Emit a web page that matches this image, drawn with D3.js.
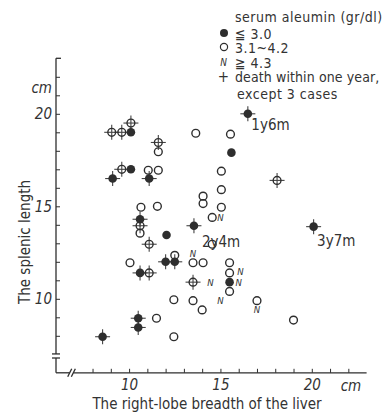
<!DOCTYPE html>
<html><head><meta charset="utf-8">
<script src="https://cdn.jsdelivr.net/npm/d3@7"></script>
<style>
html,body{margin:0;padding:0;background:#fff;}
svg{display:block;}
text{font-family:"Liberation Sans Narrow","DejaVu Sans Condensed","Arial Narrow",sans-serif;fill:#333;}
</style></head><body>
<svg id="chart" width="386" height="413"></svg>
<script>
// serum albumin <= 3.0, death within one year (filled + cross)
const filledDeath = [[16.5,20.0],[9.1,16.5],[11.1,16.5],[10.6,14.3],[13.55,13.95],[12.0,12.0],[12.5,12.0],[10.6,11.4],[10.5,8.95],[10.5,8.45],[8.55,7.95],[20.1,13.9]];
// serum albumin <= 3.0, survived
const filledAlive = [[10.1,19.0],[15.6,17.9],[10.1,17.0],[12.05,13.45],[15.5,10.9]];
// serum albumin 3.1-4.2, death within one year (open + cross)
const openDeath = [[9.05,19.0],[9.6,19.0],[10.1,19.5],[11.6,18.45],[9.6,17.0],[18.1,16.4],[10.6,13.95],[11.1,12.95],[11.1,11.4],[13.5,10.9]];
// serum albumin 3.1-4.2, survived
const openAlive = [[11.6,17.95],[13.65,18.95],[15.55,18.9],[11.05,16.95],[11.6,16.95],[15.05,16.9],[15.05,15.9],[14.05,15.55],[14.05,15.15],[15.05,14.95],[10.65,14.95],[11.55,15.0],[14.55,14.4],[10.6,13.55],[14.55,12.95],[10.05,11.95],[12.5,12.35],[13.5,11.95],[14.05,11.95],[15.5,11.95],[15.5,11.4],[15.5,10.4],[12.45,9.95],[13.5,9.9],[14.0,9.4],[17.0,9.9],[19.0,8.85],[11.5,8.95],[12.45,7.95]];
// serum albumin >= 4.3 (N)
const nMarks = [[15.0,14.4],[13.5,12.45],[16.1,11.47],[16.0,10.87],[14.45,10.9],[15.0,9.9],[17.0,9.4]];
// survival annotations
const annoLabels = ["1y6m","2y4m","3y7m"];
const annoX = [16.5,13.55,20.1];
const annoY = [20.0,13.95,13.9];
const xTickLabels = [10,15,20];
const yTickLabels = [10,15,20];
const legendTitle = "serum aleumin (gr/dl)";
const legendItems = ["≦ 3.0","3.1~4.2","≧ 4.3","death within one year,","except 3 cases"];

const svg = d3.select("#chart");
const ink = "#2e2e2e";
const x = d3.scaleLinear().domain([6,23]).range([56,366.6]);
const y = d3.scaleLinear().domain([6,23]).range([372.8,58.3]);

// axes
const gx = svg.append("g").attr("transform",`translate(0,${y(6)})`)
  .call(d3.axisBottom(x).tickValues(d3.range(8,23)).tickSize(-4).tickSizeOuter(0).tickPadding(7)
    .tickFormat(d=>xTickLabels.includes(d)?d:""));
const gy = svg.append("g").attr("transform",`translate(${x(6)},0)`)
  .call(d3.axisLeft(y).tickValues(d3.range(8,23)).tickSize(-4).tickSizeOuter(0).tickPadding(4)
    .tickFormat(d=>yTickLabels.includes(d)?d:""));
[gx,gy].forEach(g=>{
  g.select(".domain").remove();
  g.selectAll(".tick line").attr("stroke",ink).attr("stroke-width",1);
  g.selectAll(".tick text").attr("font-size",15).attr("font-style","italic")
    .style("font-family",'"Liberation Sans Narrow","DejaVu Sans Condensed",sans-serif').attr("fill","#333");
});
const ax = svg.append("g").attr("stroke",ink).attr("stroke-width",1.3).attr("fill","none");
// y axis line with break
ax.append("line").attr("x1",x(6)).attr("x2",x(6)).attr("y1",y(23)).attr("y2",y(7.02));
ax.append("line").attr("x1",x(6)).attr("x2",x(6)).attr("y1",y(6.8)).attr("y2",y(6));
ax.append("line").attr("x1",x(6)).attr("x2",x(6)+5).attr("y1",y(23)).attr("y2",y(23));
[7.02,6.8].forEach(v=>ax.append("line").attr("x1",x(6)-4).attr("x2",x(6)+4).attr("y1",y(v)).attr("y2",y(v)));
// x axis line with break
ax.append("line").attr("x1",x(6)).attr("x2",x(6.75)).attr("y1",y(6)).attr("y2",y(6));
ax.append("line").attr("x1",x(6.95)).attr("x2",x(23)).attr("y1",y(6)).attr("y2",y(6));
[6.75,6.95].forEach(v=>ax.append("line").attr("x1",x(v)-2).attr("x2",x(v)+2).attr("y1",y(6)+4).attr("y2",y(6)-4));

// unit labels
svg.append("text").attr("x",x(6)-4).attr("y",93).attr("text-anchor","end").attr("font-size",15).attr("font-style","italic").text("cm");
svg.append("text").attr("x",351).attr("y",390.5).attr("text-anchor","middle").attr("font-size",15).attr("font-style","italic").text("cm");
// axis titles
svg.append("text").attr("transform","translate(30,242) rotate(-90)").attr("text-anchor","middle").attr("font-size",15).text("The splenic length");
svg.append("text").attr("x",207).attr("y",409).attr("text-anchor","middle").attr("font-size",15).text("The right-lobe breadth of the liver");

// crosses
const crossPts = filledDeath.concat(openDeath);
const cg = svg.append("g").attr("stroke","#444").attr("stroke-width",1.1);
crossPts.forEach(d=>{
  cg.append("line").attr("x1",x(d[0])-7.5).attr("x2",x(d[0])+7.5).attr("y1",y(d[1])).attr("y2",y(d[1]));
  cg.append("line").attr("x1",x(d[0])).attr("x2",x(d[0])).attr("y1",y(d[1])-7.5).attr("y2",y(d[1])+7.5);
});
// open circles
svg.append("g").selectAll("circle").data(openDeath.concat(openAlive)).join("circle")
  .attr("cx",d=>x(d[0])).attr("cy",d=>y(d[1])).attr("r",3.9)
  .attr("fill","none").attr("stroke",ink).attr("stroke-width",1.4);
// filled circles
svg.append("g").selectAll("circle").data(filledDeath.concat(filledAlive)).join("circle")
  .attr("cx",d=>x(d[0])).attr("cy",d=>y(d[1])).attr("r",4.3).attr("fill",ink);
// N marks
svg.append("g").selectAll("text").data(nMarks).join("text")
  .attr("x",d=>x(d[0])).attr("y",d=>y(d[1])+3.5).attr("text-anchor","middle")
  .attr("font-size",9.5).attr("font-style","italic").text("N");
// annotations
const annoDx=[3.5,8,3.5], annoDy=[16,21,19];
annoLabels.forEach((t,i)=>svg.append("text").attr("x",x(annoX[i])+annoDx[i]).attr("y",y(annoY[i])+annoDy[i])
  .attr("font-size",15).text(t));

// legend
const lg = svg.append("g").attr("font-size",14).attr("letter-spacing",0.5);
lg.append("text").attr("x",235).attr("y",22).text(legendTitle);
lg.append("circle").attr("cx",224).attr("cy",33).attr("r",4).attr("fill",ink);
lg.append("text").attr("x",235).attr("y",38.5).text(legendItems[0]);
lg.append("circle").attr("cx",224).attr("cy",47).attr("r",3.6).attr("fill","none").attr("stroke",ink).attr("stroke-width",1.2);
lg.append("text").attr("x",235).attr("y",53).text(legendItems[1]);
lg.append("text").attr("x",223.5).attr("y",66).attr("text-anchor","middle").attr("font-size",10).attr("letter-spacing",0).attr("font-style","italic").text("N");
lg.append("text").attr("x",235).attr("y",67.5).text(legendItems[2]);
lg.append("text").attr("x",223.5).attr("y",81.5).attr("text-anchor","middle").attr("font-size",15).attr("letter-spacing",0).text("+");
lg.append("text").attr("x",235).attr("y",82).attr("letter-spacing",0.1).text(legendItems[3]);
lg.append("text").attr("x",237).attr("y",99).text(legendItems[4]);
</script>
</body></html>
